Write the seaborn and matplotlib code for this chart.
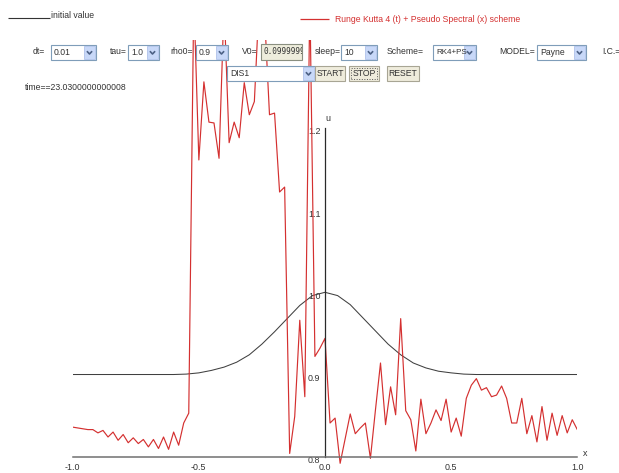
import numpy as np
import pandas as pd
import matplotlib
matplotlib.use("Agg")
import matplotlib.pyplot as plt
import matplotlib.transforms as mtransforms
from matplotlib.patches import Rectangle
from matplotlib.lines import Line2D
import seaborn as sns

# ---------------- data ----------------
# grid of the pseudo-spectral scheme on [-1, 1]
x_grid = np.linspace(-1.0, 1.0, 101)

# density after time 23.03 (RK4 in time + pseudo spectral in space)
u_rk4ps = [
    0.836, 0.835, 0.834, 0.833, 0.833, 0.829, 0.832, 0.824, 0.830, 0.820,
    0.827, 0.817, 0.823, 0.816, 0.821, 0.812, 0.821, 0.810, 0.824, 0.809,
    0.830, 0.814, 0.841, 0.853, 1.360, 1.161, 1.256, 1.207, 1.206, 1.163,
    1.350, 1.182, 1.207, 1.188, 1.255, 1.216, 1.232, 1.360, 1.340, 1.216,
    1.218, 1.122, 1.128, 0.804, 0.849, 0.966, 0.873, 1.360, 0.922, 0.932,
    0.944, 0.841, 0.847, 0.792, 0.822, 0.852, 0.828, 0.835, 0.841, 0.798,
    0.857, 0.914, 0.839, 0.885, 0.851, 0.968, 0.856, 0.845, 0.807, 0.870,
    0.828, 0.841, 0.857, 0.844, 0.870, 0.830, 0.847, 0.825, 0.871, 0.887,
    0.895, 0.881, 0.884, 0.873, 0.875, 0.886, 0.871, 0.841, 0.841, 0.871,
    0.828, 0.850, 0.818, 0.861, 0.820, 0.853, 0.826, 0.850, 0.829, 0.845,
    0.833,
]

# initial value (bump on a 0.9 background)
x_init = [-1.0, -0.6, -0.55, -0.5, -0.45, -0.4, -0.35, -0.3, -0.25, -0.2,
          -0.15, -0.1, -0.05, 0.0, 0.05, 0.1, 0.15, 0.2, 0.25, 0.3,
          0.35, 0.4, 0.45, 0.5, 0.55, 0.6, 1.0]
u_init = [0.900, 0.900, 0.9005, 0.902, 0.905, 0.909, 0.915, 0.924, 0.937, 0.952,
          0.968, 0.984, 0.996, 1.000, 0.996, 0.985, 0.969, 0.953, 0.937, 0.924,
          0.914, 0.908, 0.904, 0.902, 0.9005, 0.900, 0.900]

x_ticks = [-1.0, -0.5, 0.0, 0.5, 1.0]
x_tick_labels = ["-1.0", "-0.5", "0.0", "0.5", "1.0"]
y_ticks = [0.8, 0.9, 1.0, 1.1, 1.2]
y_tick_labels = ["0.8", "0.9", "1.0", "1.1", "1.2"]

time_label = "time==23.0300000000008"
legend_init = "initial value"
legend_scheme = "Runge Kutta 4 (t) + Pseudo Spectral (x) scheme"

# ---------------- style ----------------
sns.set_style("white")
plt.rcParams["font.family"] = ["Liberation Sans Narrow", "Liberation Sans", "DejaVu Sans"]
plt.rcParams["axes.unicode_minus"] = False

W, H = 619, 473
fig = plt.figure(figsize=(W / 100, H / 100), dpi=100)
fig.patch.set_facecolor("white")

RED = "#d43030"
TXT = "#333333"
FS = 6.2
TFS = 6.4

# plotting area: x in [-1, 1], u clipped above the control panel
ax = fig.add_axes([72.7 / W, 0.0, 504.6 / W, 433.0 / H])
ax.set_facecolor("none")

df_init = pd.DataFrame({"x": x_init, "u": u_init})
df_num = pd.DataFrame({"x": x_grid, "u": u_rk4ps})
sns.lineplot(data=df_init, x="x", y="u", color="#404040", lw=0.75,
             estimator=None, ax=ax)
sns.lineplot(data=df_num, x="x", y="u", color=RED, lw=0.85,
             estimator=None, ax=ax)

ax.set_xlim(-1.0, 1.0)
ax.set_ylim(0.7802, 1.3069)
ax.set_xlabel("")
ax.set_ylabel("")

for side in ("top", "right"):
    ax.spines[side].set_visible(False)
ax.spines["left"].set_position(("data", 0.0))
ax.spines["left"].set_bounds(0.8, 1.2)
ax.spines["left"].set_color("#2a2a2a")
ax.spines["left"].set_linewidth(0.9)
ax.spines["bottom"].set_position(("data", 0.8))
ax.spines["bottom"].set_bounds(-1.0, 1.0)
ax.spines["bottom"].set_color("#707070")
ax.spines["bottom"].set_linewidth(1.1)

ax.set_xticks(x_ticks, x_tick_labels)
ax.set_yticks(y_ticks, y_tick_labels)
ax.tick_params(axis="x", direction="inout", length=4.3, width=1.0,
               color="#707070", labelcolor=TXT, labelsize=TFS, pad=2.2)
ax.tick_params(axis="y", direction="inout", length=4.3, width=0.9,
               color="#2a2a2a", labelcolor=TXT, labelsize=TFS, pad=1.2)
shift = mtransforms.ScaledTranslation(0, -3 / 100, fig.dpi_scale_trans)
for lab in ax.get_yticklabels():
    lab.set_transform(lab.get_transform() + shift)

ax.annotate("u", xy=(0.0, 1.2), xytext=(0.3, 5), textcoords="offset points",
            ha="left", va="baseline", fontsize=TFS, color=TXT)
ax.annotate("x", xy=(1.0, 0.8), xytext=(4.2, 0.5), textcoords="offset points",
            ha="left", va="baseline", fontsize=TFS, color=TXT)


# ---------------- control panel ----------------
def fx(px):
    return px / W


def fy(py):
    return 1 - py / H


def ftext(px, py, s, **kw):
    kw.setdefault("fontsize", FS)
    kw.setdefault("color", TXT)
    kw.setdefault("va", "center")
    kw.setdefault("ha", "left")
    return fig.text(fx(px), fy(py), s, zorder=12, **kw)


def frect(x0, y0, w, h, fc, ec, lw=0.8, ls="-", z=10):
    r = Rectangle((fx(x0), fy(y0 + h)), w / W, h / H, transform=fig.transFigure,
                  facecolor=fc, edgecolor=ec, lw=lw, ls=ls, zorder=z)
    fig.add_artist(r)
    return r


def fline(xs, ys, color, lw=1.0, z=11):
    fig.add_artist(Line2D([fx(v) for v in xs], [fy(v) for v in ys],
                          transform=fig.transFigure, color=color, lw=lw,
                          zorder=z, solid_capstyle="butt"))


def combo(x0, y0, w, h, text, fs=FS):
    frect(x0, y0, w, h, "white", "#7f9db9")
    bw = 11
    frect(x0 + w - bw - 1, y0 + 1, bw, h - 2, "#c8d8f8", "#b0c2ea", lw=0.6, z=11)
    cx, cy = x0 + w - bw / 2 - 1, y0 + h / 2
    fline([cx - 2.6, cx, cx + 2.6], [cy - 1.3, cy + 1.5, cy - 1.3], "#4d6185", lw=1.2, z=12)
    ftext(x0 + 3, cy, text, fontsize=fs)


def button(x0, y0, w, h, text, focus=False):
    frect(x0, y0, w, h, "#efecdc", "#a8a594")
    if focus:
        frect(x0 + 2, y0 + 2, w - 4, h - 4, "none", "#555555", lw=0.7, ls=":", z=11)
    ftext(x0 + w / 2, y0 + h / 2, text, ha="center")


# legend entries
fline([8, 50], [18, 18], "#333333", lw=0.8)
ftext(51, 15.5, legend_init)
fline([300, 329], [19, 19], RED, lw=0.9)
ftext(335, 19, legend_scheme, color=RED)

# first row of controls
ROW = 52
ftext(33, ROW, "dt=")
combo(51, 45, 45, 15, "0.01")
ftext(110, ROW, "tau=")
combo(128, 45, 31, 15, "1.0")
ftext(170, ROW, "rho0=")
combo(196, 45, 32, 15, "0.9")
ftext(242, ROW, "V0=")
box = frect(261, 44, 41, 16, "#eeeddc", "#8a8f80")
t = ftext(263.5, ROW, "0.09999999", family="DejaVu Sans Mono", fontsize=5.6)
t.set_clip_path(box)
ftext(315, ROW, "sleep=")
combo(341, 45, 36, 15, "10")
ftext(387, ROW, "Scheme=")
combo(433, 45, 43, 15, "RK4+PS", fs=5.8)
ftext(499, ROW, "MODEL=")
combo(537, 45, 49, 15, "Payne")
ftext(602, ROW, "I.C.=")

# second row
combo(227, 66, 88, 15, "DIS1")
button(315, 66, 30, 15, "START")
button(349, 66, 30, 15, "STOP", focus=True)
button(387, 66, 32, 15, "RESET")

ftext(25, 87, time_label)

fig.savefig("out.png", dpi=100)
